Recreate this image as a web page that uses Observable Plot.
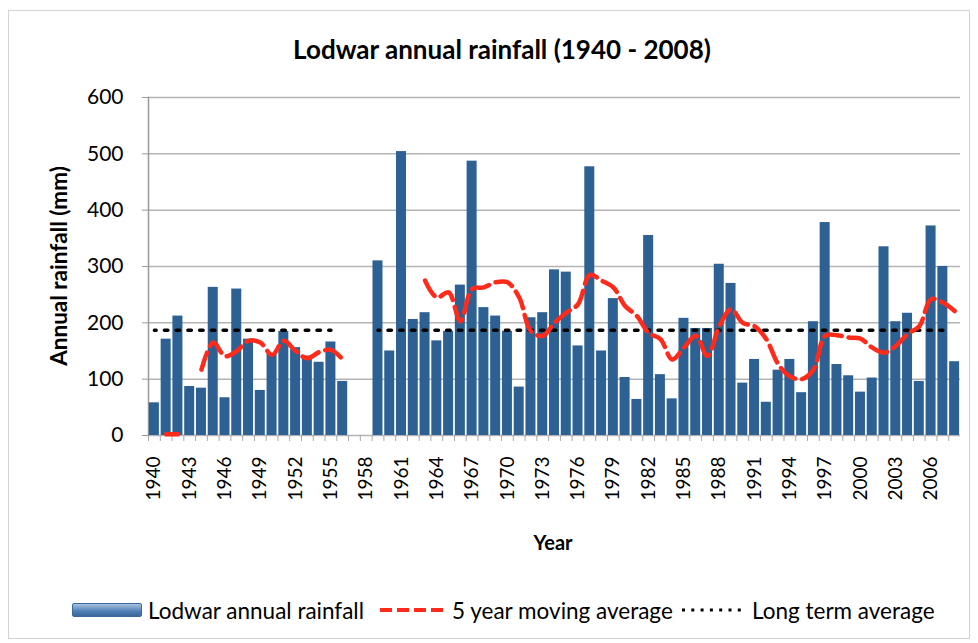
<!DOCTYPE html>
<html><head><meta charset="utf-8">
<script src="https://cdn.jsdelivr.net/npm/d3@7"></script>
<script src="https://cdn.jsdelivr.net/npm/@observablehq/plot@0.6"></script>
<style>
body{margin:0;background:#fff;}
#wrap{position:relative;width:978px;height:643px;font-family:Lato,"Open Sans",sans-serif;color:#000;overflow:hidden;background:#fff;}
#border{position:absolute;left:8px;top:10px;width:962px;height:629px;border:1.5px solid #d2d2d2;box-sizing:border-box;}
#chart{position:absolute;left:0;top:0;}
#title{position:absolute;left:0;width:1004px;top:34px;text-align:center;font-weight:700;font-size:26px;line-height:30px;white-space:nowrap;}
#ylab{position:absolute;left:58px;top:266px;transform:translate(-50%,-50%) rotate(-90deg);font-weight:700;font-size:22.5px;white-space:nowrap;}
#xlab{position:absolute;left:553px;top:542px;transform:translate(-50%,-50%);font-weight:700;font-size:20px;white-space:nowrap;}
.lg{position:absolute;top:610px;transform:translateY(-50%);font-size:22.5px;white-space:nowrap;}
.sw{position:absolute;}
</style></head>
<body>
<div id="wrap">
  <div id="border"></div>
  <div id="chart"></div>
  <div id="title"></div>
  <div id="ylab"></div>
  <div id="xlab"></div>
  <div id="legend"></div>
</div>
<script>
// ---- data ----
const years = d3.range(1940, 2009);
const rainfall = [
  58,171,212,87,84,263,67,260,171,80,      // 1940-1949
  145,185,156,141,130,166,96,null,null,310, // 1950-1959
  150,504,206,218,168,185,267,487,227,212,  // 1960-1969
  185,86,209,218,294,290,159,477,150,243,   // 1970-1979
  103,64,355,108,65,208,190,190,304,270,    // 1980-1989
  93,135,59,116,135,76,202,378,126,106,     // 1990-1999
  77,102,335,202,217,96,372,300,131         // 2000-2008
];
const movingAvg = [
  null,2,2,null,117,165,141,150,168,165,            // 1940-1949
  143,168,150,137,148,152,135,null,null,null,       // 1950-1959
  null,null,null,275,245,254,203,260,263,272,       // 1960-1969
  272,245,185,177,200,218,233,285,275,263,          // 1970-1979
  230,212,182,171,135,156,177,141,194,224,          // 1980-1989
  200,194,171,127,105,100,117,177,178,174,          // 1990-1999
  172,156,147,159,180,194,242,236,221               // 2000-2008
];
const longTermValue = 187;
const longTermYears = [...d3.range(1940, 1956), ...d3.range(1959, 2008)];
const yTicks = [0,100,200,300,400,500,600];
const xTickLabels = d3.range(1940, 2009, 3);
const titleText = "Lodwar annual rainfall (1940 - 2008)";
const yLabel = "Annual rainfall (mm)";
const xLabel = "Year";
const seriesNames = ["Lodwar annual rainfall", "5 year moving average", "Long term average"];

// ---- table ----
const table = years.map((y, i) => ({
  year: y,
  rain: rainfall[i],
  ma: movingAvg[i],
  lt: longTermYears.includes(y) ? longTermValue : null
}));

const barColor = "#2d6193";
const maColor = "#ff2a1a";

const chart = Plot.plot({
  width: 978, height: 643,
  marginTop: 97, marginBottom: 208, marginLeft: 148, marginRight: 18,
  style: {fontFamily: "Lato, sans-serif", fontSize: "20px", color: "#000", background: "transparent"},
  x: {type: "band", domain: years, paddingInner: 0.15, paddingOuter: 0.075},
  y: {domain: [0, 600]},
  marks: [
    Plot.gridY(yTicks, {stroke: "#b4b4b4", strokeOpacity: 1, strokeWidth: 1.5}),
    Plot.axisY(yTicks, {tickSize: 6, tickPadding: 19, stroke: "#9a9a9a", fontSize: 21, label: null}),
    Plot.axisX(years, {tickSize: 6, tickFormat: () => "", stroke: "#aaaaaa", dx: -5.87, label: null}),
    Plot.axisX(xTickLabels, {tickSize: 0, tickPadding: 21, tickRotate: -90, tickFormat: d => String(d), fontSize: 19, label: null}),
    Plot.frame({anchor: "left", stroke: "#9a9a9a", strokeWidth: 1.5}),
    Plot.barY(table, {x: "year", y: "rain", fill: barColor}),
    Plot.lineY(table, {x: "year", y: "lt", stroke: "#000", strokeWidth: 3.5, strokeDasharray: "3.5,8.24", strokeDashoffset: 1.75}),
    Plot.lineY(table, {x: "year", y: "ma", stroke: maColor, strokeWidth: 4.5, strokeDasharray: "18,7", curve: "catmull-rom"})
  ]
});
document.getElementById("chart").appendChild(chart);
document.getElementById("title").textContent = titleText;
document.getElementById("ylab").textContent = yLabel;
document.getElementById("xlab").textContent = xLabel;

// ---- legend ----
const lg = document.getElementById("legend");
lg.innerHTML = `
  <div class="sw" style="left:72px;top:603px;width:70px;height:14px;border:1px solid #3a6a9c;border-radius:2px;background:linear-gradient(#a9c3e0,#4f7fb5 60%,#3a6a9c);box-sizing:border-box;"></div>
  <div class="lg" style="left:148px">${seriesNames[0]}</div>
  <svg class="sw" style="left:380px;top:605px" width="66" height="10"><line x1="0" x2="66" y1="5" y2="5" stroke="${maColor}" stroke-width="4" stroke-dasharray="12,5"/></svg>
  <div class="lg" style="left:452px">${seriesNames[1]}</div>
  <svg class="sw" style="left:682px;top:605px" width="64" height="10"><line x1="0" x2="64" y1="5" y2="5" stroke="#000" stroke-width="3" stroke-dasharray="3,6.3"/></svg>
  <div class="lg" style="left:752px">${seriesNames[2]}</div>
`;
</script>
</body></html>
